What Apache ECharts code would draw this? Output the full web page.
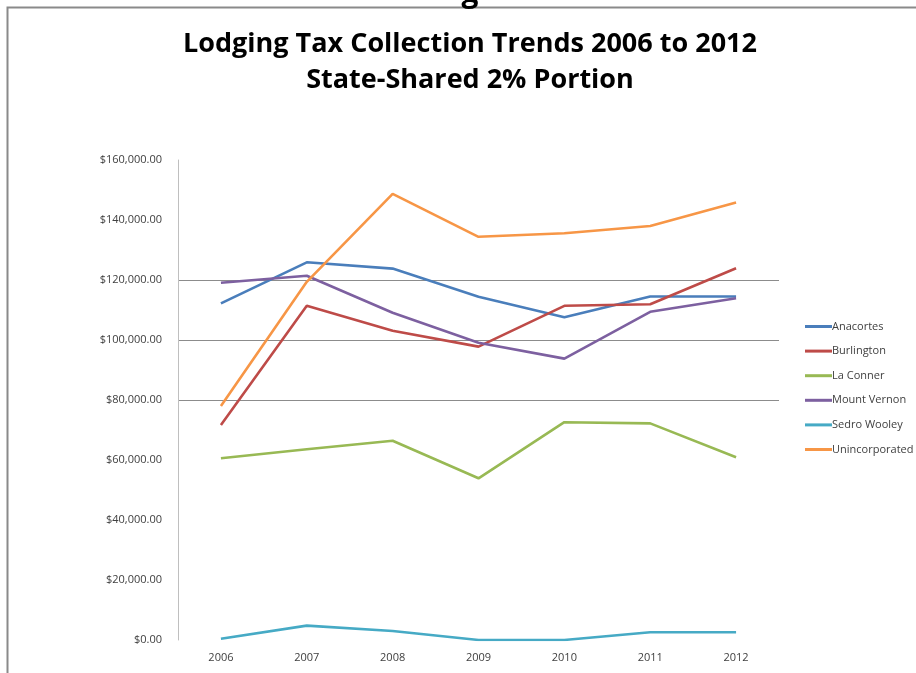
<!DOCTYPE html>
<html>
<head>
<meta charset="utf-8">
<script src="https://cdn.jsdelivr.net/npm/echarts@6/dist/echarts.min.js"></script>
<style>
html,body{margin:0;padding:0;background:#fff;}
#chart{width:916px;height:673px;}
</style>
</head>
<body>
<div id="chart"></div>
<script>
var years = ['2006','2007','2008','2009','2010','2011','2012'];
var seriesNames = ['Anacortes','Burlington','La Conner','Mount Vernon','Sedro Wooley','Unincorporated'];
var anacortes     = [112200, 125900, 123800, 114400, 107600, 114500, 114500];
var burlington    = [71700, 111400, 103100, 97800, 111400, 111900, 123900];
var laConner      = [60600, 63600, 66400, 53900, 72600, 72200, 60900];
var mountVernon   = [119100, 121400, 109100, 99100, 93800, 109400, 113900];
var sedroWooley   = [400, 4800, 3000, 0, 0, 2600, 2600];
var unincorporated= [78000, 119400, 148700, 134400, 135600, 138000, 145800];
var titleText = 'Lodging Tax Collection Trends 2006 to 2012\nState-Shared 2% Portion';
var colors = ['#4A7EBB','#BE4B48','#98B954','#7D60A0','#46AAC5','#F79646'];
var allData = [anacortes, burlington, laConner, mountVernon, sedroWooley, unincorporated];

var chart = echarts.init(document.getElementById('chart'), null, {renderer:'canvas'});
var gridColors = ['rgba(0,0,0,0)','rgba(0,0,0,0)','rgba(0,0,0,0)','rgba(0,0,0,0)','#8c8c8c','#8c8c8c','#8c8c8c','rgba(0,0,0,0)','rgba(0,0,0,0)'];
var fam = "'Open Sans', sans-serif";
var option = {
  animation: false,
  backgroundColor: '#fff',
  color: colors,
  graphic: [
    {type:'rect', shape:{x:7.5, y:7.5, width:1000, height:700}, style:{fill:'none', stroke:'#8a8a8a', lineWidth:2}},
    {type:'text', x: 470, y: -22, style:{text:'g', font:"bold 30px " + fam, fill:'#000', align:'center'}},
    {type:'text', x: 470, y: 26, style:{text: titleText, align:'center', verticalAlign:'top', font: "bold 27px " + fam, lineHeight: 36, fill:'#000'}}
  ],
  legend: {
    orient: 'vertical',
    left: 800,
    top: 316,
    itemWidth: 27,
    itemHeight: 3,
    itemGap: 13.6,
    icon: 'rect',
    textStyle: {fontFamily: fam, fontSize: 11, color: '#404040', padding:[0,0,0,-5]},
    data: seriesNames
  },
  grid: {left: 178, right: 137, top: 160, bottom: 33, containLabel: false},
  xAxis: {
    type: 'category',
    data: years,
    boundaryGap: true,
    axisLine: {show: false},
    axisTick: {show: false},
    axisLabel: {margin: 12, fontFamily: fam, fontSize: 11, color: '#404040'}
  },
  yAxis: {
    type: 'value',
    min: 0, max: 160000, interval: 20000,
    axisLine: {show: true, lineStyle: {color: '#bfbfbf', width: 1}},
    axisTick: {show: false},
    axisLabel: {
      margin: 16,
      fontFamily: fam, fontSize: 11, color: '#404040',
      formatter: function(v){ return '$' + v.toLocaleString('en-US',{minimumFractionDigits:2, maximumFractionDigits:2}); }
    },
    splitLine: {show: true, lineStyle: {color: gridColors, width: 1.2}}
  },
  series: seriesNames.map(function(n, i){
    return {name: n, type: 'line', data: allData[i], symbol: 'none', lineStyle: {width: 2.6, color: colors[i]}, itemStyle:{color: colors[i]}};
  })
};
chart.setOption(option);
</script>
</body>
</html>
